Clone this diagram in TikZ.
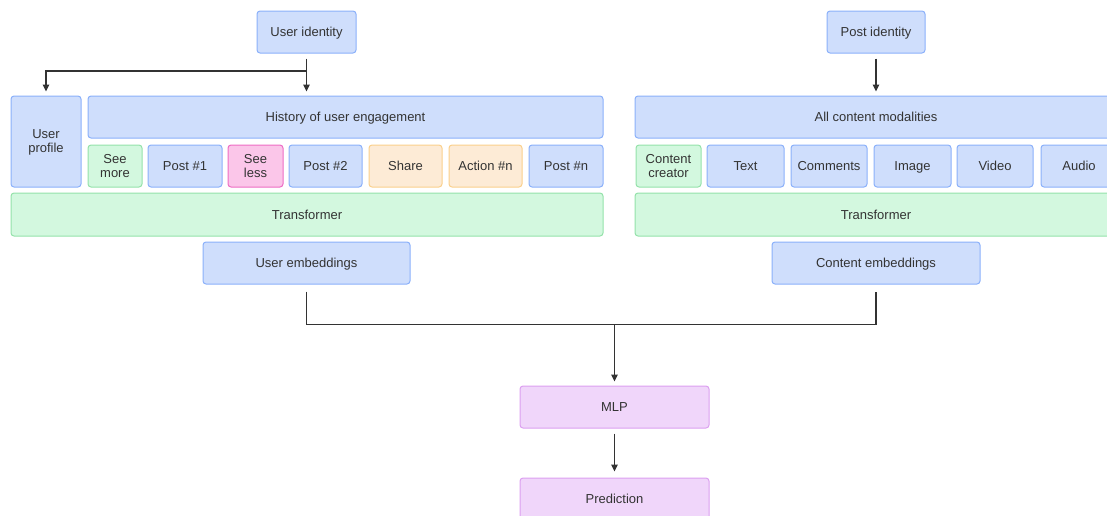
\documentclass[tikz,border=0pt]{standalone}
\usepackage{fontspec}
\setmainfont{Liberation Sans}
\usetikzlibrary{arrows.meta}

\definecolor{bluefill}{HTML}{CFDEFC}
\definecolor{blueline}{HTML}{8AB0FA}
\definecolor{greenfill}{HTML}{D3F8DF}
\definecolor{greenline}{HTML}{94E2AA}
\definecolor{pinkfill}{HTML}{FBC6E9}
\definecolor{pinkline}{HTML}{EE6CC4}
\definecolor{orangefill}{HTML}{FDEBD6}
\definecolor{orangeline}{HTML}{FAD08C}
\definecolor{purplefill}{HTML}{F0D6FA}
\definecolor{purpleline}{HTML}{DCA0F0}
\definecolor{ink}{HTML}{333333}

\tikzset{
  label text/.style={text=ink, font=\fontsize{13}{14}\selectfont,
    text height=12.3pt, text depth=3pt, inner sep=0pt},
  two lines/.style={text height={}, text depth=0pt},
  card/.style={draw, line width=1pt, rounded corners=3pt,
    label text, align=center},
  bluecard/.style={card, fill=bluefill, draw=blueline},
  greencard/.style={card, fill=greenfill, draw=greenline},
  pinkcard/.style={card, fill=pinkfill, draw=pinkline},
  orangecard/.style={card, fill=orangefill, draw=orangeline},
  purplecard/.style={card, fill=purplefill, draw=purpleline},
  wire/.style={draw=ink, line width=1.4pt},
  arr/.style={wire, -{Triangle[length=7pt,width=6.5pt]}},
}

% box by its corners: name, x1, y1, x2, y2, style, text
\newcommand\blk[7]{%
  \node[#6, minimum width={(#4-#2)*1pt}, minimum height={(#5-#3)*1pt}]
    (#1) at ({(#2+#4)/2},{(#3+#5)/2}) {#7};}

\begin{document}
\begin{tikzpicture}[x=1pt,y=-1pt]
  \useasboundingbox (0,0) rectangle (1107,515);
  \clip (0,0) rectangle (1107,515);

  % user tower
  \blk{uid}{257}{11}{356}{53}{bluecard}{User identity}
  \blk{prof}{11}{96}{81}{187}{bluecard,two lines}{User\\profile}
  \blk{hist}{88}{96}{603}{138}{bluecard}{History of user engagement}
  \blk{seemore}{88}{145}{142}{187}{greencard,two lines}{See\\more}
  \blk{post1}{148}{145}{222}{187}{bluecard}{Post \#1}
  \blk{seeless}{228}{145}{283}{187}{pinkcard,two lines}{See\\less}
  \blk{post2}{289}{145}{362}{187}{bluecard}{Post \#2}
  \blk{share}{369}{145}{442}{187}{orangecard}{Share}
  \blk{action}{449}{145}{522}{187}{orangecard}{Action \#n}
  \blk{postn}{529}{145}{603}{187}{bluecard}{Post \#n}
  \blk{utrans}{11}{193}{603}{236}{greencard}{Transformer}
  \blk{uemb}{203}{242}{410}{284}{bluecard}{User embeddings}

  % content tower (runs past the right edge)
  \blk{pid}{827}{11}{925}{53}{bluecard}{Post identity}
  \blk{cont}{635}{96}{1117}{138}{bluecard}{}
  \node[label text] (contlabel) at (876,117) {All content modalities};
  \blk{creator}{636}{145}{701}{187}{greencard,two lines}{Content\\creator}
  \blk{text}{707}{145}{784}{187}{bluecard}{Text}
  \blk{comments}{791}{145}{867}{187}{bluecard}{Comments}
  \blk{image}{874}{145}{951}{187}{bluecard}{Image}
  \blk{video}{957}{145}{1033}{187}{bluecard}{Video}
  \blk{audio}{1041}{145}{1117}{187}{bluecard}{Audio}
  \blk{ctrans}{635}{193}{1117}{236}{greencard}{}
  \node[label text] (ctranslabel) at (876,214.5) {Transformer};
  \blk{cemb}{772}{242}{980}{284}{bluecard}{Content embeddings}

  % head
  \blk{mlp}{520}{386}{709}{428}{purplecard}{MLP}
  \blk{pred}{520}{478}{709}{521}{purplecard}{}
  \node[label text] (predlabel) at (614.5,498.5) {Prediction};

  % connectors
  \coordinate (split) at (uid.south |- 0,71);
  \draw[wire, shorten <=5pt] (uid.south) -- (split);
  \draw[arr, shorten >=4pt] (split) -- (uid.south |- hist.north);
  \draw[arr, shorten >=4pt] (split) -| (prof.north);

  \draw[arr, shorten <=5pt, shorten >=4pt] (pid.south) -- (pid.south |- cont.north);

  \coordinate (join) at (mlp.north |- 0,324.5);
  \draw[wire, shorten <=7pt, shorten >=7pt] (uemb.south) |- (join) -| (cemb.south);
  \draw[arr, shorten >=4pt] (join) -- (mlp.north);

  \draw[arr, shorten <=5pt, shorten >=6pt] (mlp.south) -- (pred.north);
\end{tikzpicture}
\end{document}
